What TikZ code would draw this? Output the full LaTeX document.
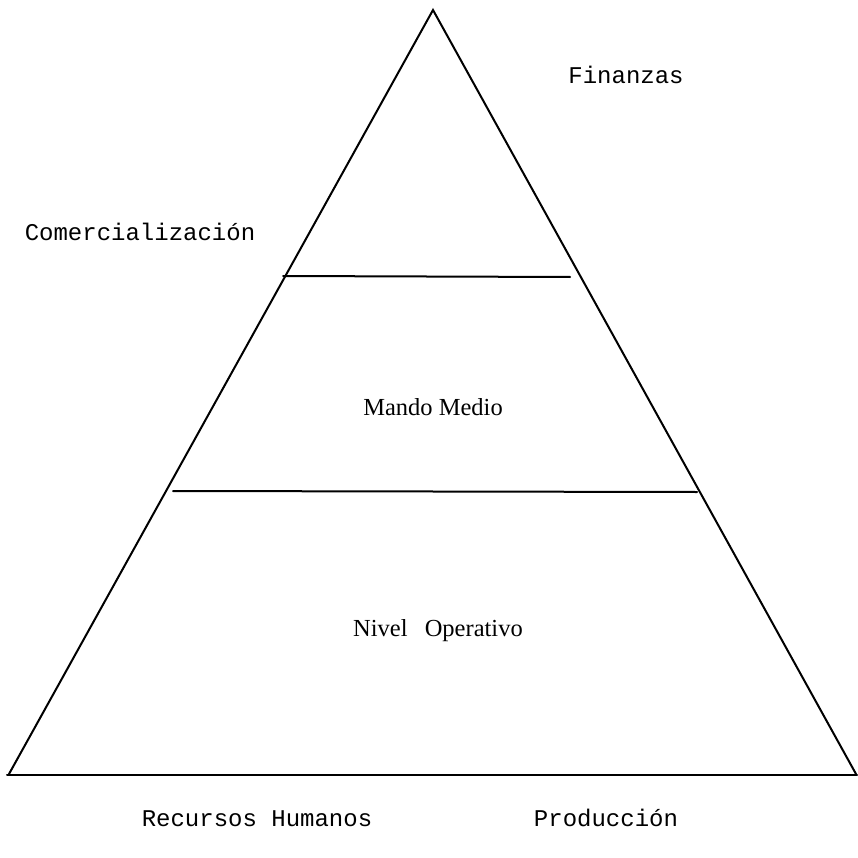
\documentclass[tikz,border=0pt]{standalone}
\usepackage{fontspec}
\setmainfont{Liberation Serif}
\newfontfamily\monof{Liberation Mono}
\begin{document}
\begin{tikzpicture}[x=1pt,y=-1pt,
  edge/.style={line width=2pt, line cap=round, line join=miter},
  mono/.style={font=\monof\fontsize{24}{27}\selectfont, inner sep=0pt, anchor=base},
  lvl/.style={font=\fontsize{24.5}{27}\selectfont, inner sep=0pt, anchor=base}]
\useasboundingbox (0,0) rectangle (857,858);
\fill[white] (0,0) rectangle (857,858);
\coordinate (apex) at (433,10);
\coordinate (bl) at (9,774);
\coordinate (br) at (856,774);
\draw[edge] (bl) -- (apex) -- (br);
\draw[edge] (7,775) -- (857,775);
\coordinate (u1) at (283,276);
\coordinate (u2) at (570,277);
\coordinate (l1) at (173,491);
\coordinate (l2) at (697,492);
\draw[edge] (u1) -- (u2);
\draw[edge] (l1) -- (l2);
\node[mono] (fin) at (626,84) {Finanzas};
\node[mono] (com) at (140,241) {Comercialización};
\node[lvl] (mm) at (433,415) {Mando Medio};
\node[lvl] (no) at (438,636) {Nivel\hspace{0.7em}Operativo};
\node[mono] (rh) at (257,826) {Recursos Humanos};
\node[mono] (pr) at (606,826) {Producción};
\end{tikzpicture}
\end{document}
